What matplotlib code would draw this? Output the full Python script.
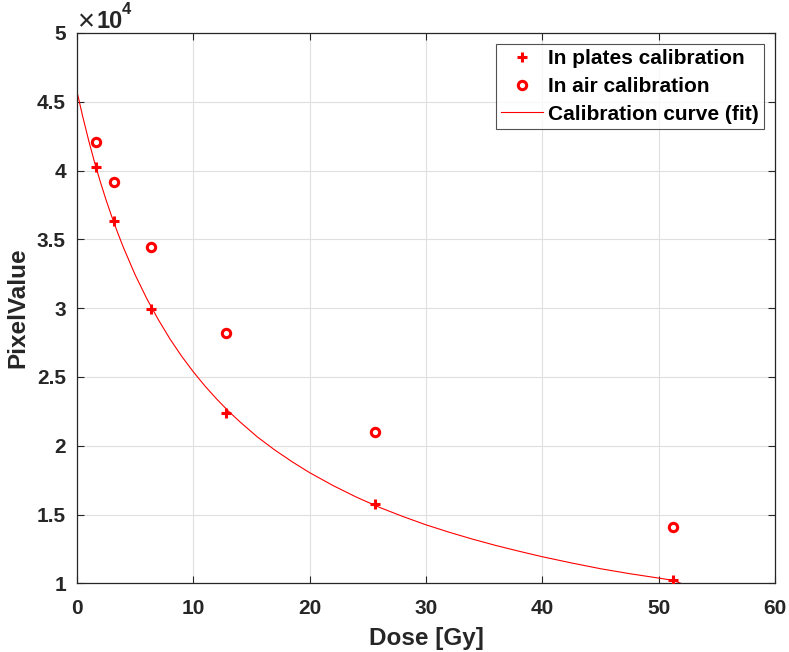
import matplotlib
matplotlib.use("Agg")
import matplotlib.pyplot as plt
from matplotlib import font_manager as fm
from matplotlib.ticker import FuncFormatter

# Data
dose = [1.6, 3.2, 6.4, 12.8, 25.6, 51.2]
plates_pv = [40230, 36310, 29950, 22390, 15750, 10240]
air_pv = [42050, 39140, 34410, 28210, 21010, 14100]

# Calibration curve (fit) samples
fit_dose = [0, 0.5, 1, 1.5, 2, 2.5, 3, 3.5, 4, 5, 6, 7, 8, 9, 10, 11, 12, 13, 14,
            15.5, 17, 18.5, 20, 22, 24, 26, 28, 30, 32, 34, 36, 38, 40, 42.5,
            45, 47.5, 50, 51.2, 51.9]
fit_pv = [45730, 43900, 42200, 40630, 39200, 37860, 36630, 35470, 34390, 32420,
          30690, 29150, 27750, 26500, 25370, 24340, 23400, 22530, 21740,
          20640, 19690, 18830, 18040, 17110, 16270, 15520, 14860, 14250,
          13710, 13210, 12750, 12330, 11930, 11480, 11060, 10700, 10380,
          10220, 10000]

xticks = [0, 10, 20, 30, 40, 50, 60]
yticks = [10000, 15000, 20000, 25000, 30000, 35000, 40000, 45000, 50000]

# pick the regular-width Liberation Sans Bold file
bold_file = None
for f in fm.fontManager.ttflist:
    if f.name == 'Liberation Sans' and f.weight in (700, 'bold') and f.style == 'normal' \
            and 'Narrow' not in f.fname:
        bold_file = f.fname
        break

def fp(size):
    if bold_file:
        return fm.FontProperties(fname=bold_file, size=size)
    return fm.FontProperties(family='Liberation Sans', weight='bold', size=size)

plt.rcParams['font.family'] = ['Liberation Sans', 'DejaVu Sans']
txt = '#262626'

W, H = 789, 652
fig = plt.figure(figsize=(W / 100, H / 100), dpi=100)
ax = fig.add_axes([77/W, 1-583.3/H, (775-77)/W, (583.3-33)/H])

ax.plot(fit_dose, fit_pv, color='red', lw=0.8, label='Calibration curve (fit)', zorder=2)
ax.plot(dose, plates_pv, linestyle='none', marker='+', ms=7, mew=2.2, color='red',
        label='In plates calibration', zorder=3)
ax.plot(dose, air_pv, linestyle='none', marker='o', ms=6, mew=2.2, mfc='none',
        mec='red', label='In air calibration', zorder=3)

ax.set_xlim(0, 60)
ax.set_ylim(10000, 50000)
ax.set_xticks(xticks)
ax.set_yticks(yticks)
ax.yaxis.set_major_formatter(FuncFormatter(lambda v, p: '%g' % (v / 1e4)))
ax.grid(True, color='#dfdfdf', lw=0.8)
ax.set_axisbelow(True)
ax.tick_params(direction='in', length=5, width=0.8, colors='#262626',
               top=True, right=True)
ax.tick_params(axis='x', pad=11)
ax.tick_params(axis='y', pad=8)
for lab in ax.get_xticklabels() + ax.get_yticklabels():
    lab.set_fontproperties(fp(15))
    lab.set_color(txt)
for s in ax.spines.values():
    s.set_color('#262626')
    s.set_linewidth(0.9)

ax.set_xlabel('Dose [Gy]', fontproperties=fp(17.5), color=txt, labelpad=7)
ax.set_ylabel('PixelValue', fontproperties=fp(17.5), color=txt, labelpad=5)

# exponent label (x10^4) in figure pixel coordinates
fig.text(78/W, 1-30/H, '×', fontsize=21, color=txt, ha='left', va='baseline',
         family='Liberation Sans')
fig.text(96/W, 1-28/H, '10', fontproperties=fp(17), color=txt, ha='left', va='baseline')
fig.text(122/W, 1-14/H, '4', fontproperties=fp(12), color=txt, ha='left', va='baseline')

handles, labels = ax.get_legend_handles_labels()
order = [1, 2, 0]
leg = ax.legend([handles[i] for i in order], [labels[i] for i in order],
                loc='upper right', bbox_to_anchor=(0.9845, 0.98),
                prop=fp(15),
                frameon=True, fancybox=False, edgecolor='#262626',
                borderpad=0.25, labelspacing=0.42, handlelength=2.0,
                handletextpad=0.25, borderaxespad=0)
leg.get_frame().set_linewidth(0.8)
for t in leg.get_texts():
    t.set_color('black')

fig.savefig('out.png', dpi=100)
